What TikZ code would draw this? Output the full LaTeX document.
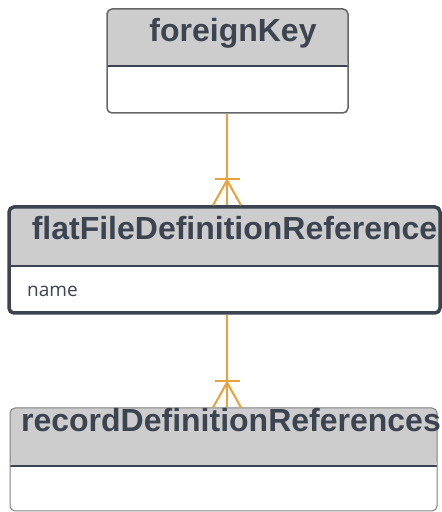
\documentclass[tikz,border=0pt]{standalone}
\usepackage{fontspec}
\setmainfont{Liberation Sans}
\newfontfamily\attrfont{Open Sans}
\usetikzlibrary{calc}
\definecolor{erhdr}{HTML}{CDCDCD}
\definecolor{ertxt}{HTML}{3B4450}
\definecolor{erorange}{HTML}{E9A23B}
\begin{document}
\begin{tikzpicture}[x=1pt, y=1pt,
  erbox/.style = {draw, rounded corners=5pt, fill=white, inner sep=0pt,
    path picture={\fill[erhdr] (path picture bounding box.north west)
      rectangle ([yshift=-#1]path picture bounding box.north east);
      \draw[ertxt, line width=1.5pt] ([yshift=-#1]path picture bounding box.north west)
      -- ([yshift=-#1]path picture bounding box.north east);}},
  ertitle/.style = {anchor=base, inner sep=0pt, text=ertxt,
    font=\bfseries\fontsize{32}{38}\selectfont},
  erattr/.style = {anchor=base west, inner sep=0pt, text=ertxt,
    font=\attrfont\fontsize{19}{23}\selectfont},
  errel/.style = {draw=erorange, line width=2pt}
]
  \useasboundingbox (0,0) rectangle (442,512);
  \coordinate (relx) at (227,0);
  % entities
  \node[erbox=57pt, draw=gray!80!black, line width=1.5pt,
    minimum width=241, minimum height=104] (fk) at (227.5,451) {};
  \node[ertitle] (fkt) at (233,470) {foreignKey};
  \node[erbox=59pt, draw=ertxt, line width=3.5pt,
    minimum width=431, minimum height=106] (ff) at (224.5,252) {};
  \node[ertitle] (fft) at (234.5,272) {flatFileDefinitionReference};
  \node[erattr] (ffa) at (27,215) {name};
  \node[erbox=58pt, draw=gray, line width=1pt,
    minimum width=427, minimum height=103] (rd) at (223.5,52.5) {};
  \node[ertitle] (rdt) at (231,80) {recordDefinitionReferences};
  % relations (one to many)
  \draw[errel] (relx |- fk.south) -- (relx |- ff.north);
  \draw[errel] (relx |- ff.south) -- (relx |- rd.north);
  % crow's feet
  \draw[errel] ($(relx |- ff.north)+(-12.5,26)$) -- ++(25,0);
  \draw[errel] ($(relx |- ff.north)+(-14,0)$) -- ++(14,25) -- ++(14,-25);
  \draw[errel] ($(relx |- rd.north)+(-12.5,26)$) -- ++(25,0);
  \draw[errel] ($(relx |- rd.north)+(-14,0)$) -- ++(14,25) -- ++(14,-25);
\end{tikzpicture}
\end{document}
